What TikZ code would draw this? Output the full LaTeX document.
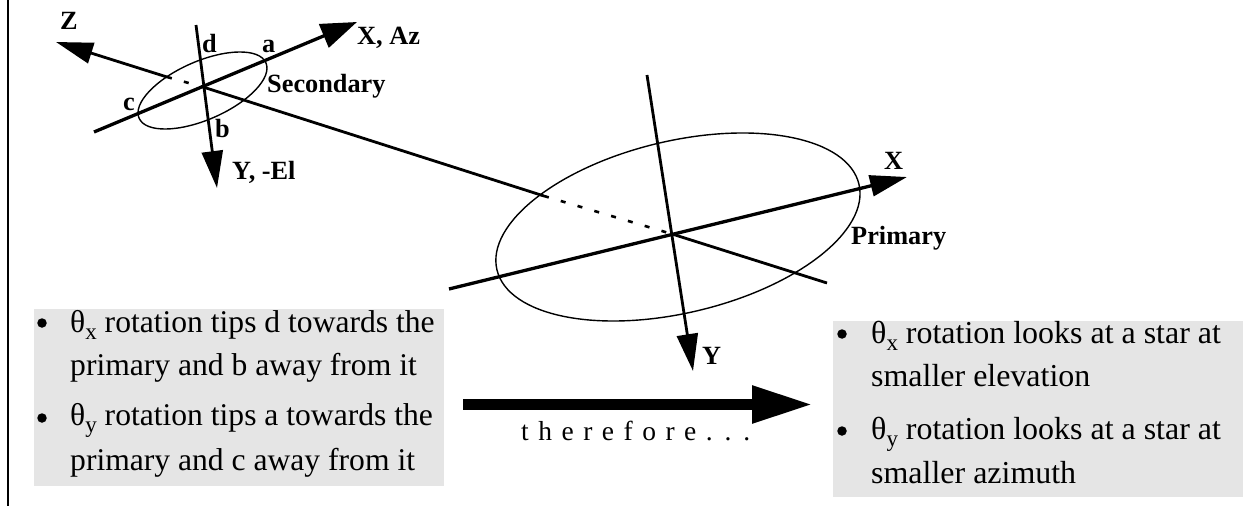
\documentclass[tikz,border=0pt]{standalone}
\usepackage{fontspec}
\setmainfont{Liberation Serif}
\usetikzlibrary{arrows.meta}
\newcommand{\thsub}[1]{θ\raisebox{-7pt}{\fontsize{23}{23}\selectfont #1}}
\tikzset{
  x=1pt,y=-1pt,
  axis/.style={line width=3.3pt,black},
  thinaxis/.style={line width=2.8pt,black},
  dotaxis/.style={line width=2.6pt,dash pattern=on 5pt off 12.5pt,black},
  rim/.style={line width=1.4pt,black},
  tipX/.style={-{Triangle[length=37pt,width=21pt]}},
  tipW/.style={-{Triangle[length=36pt,width=25pt]}},
  label/.style={font=\fontsize{26.3}{27}\selectfont\bfseries,inner sep=0pt,anchor=base west},
  body/.style={font=\fontsize{31.6}{32}\selectfont,inner sep=0pt,anchor=base west},
  bodyR/.style={font=\fontsize{31.95}{32}\selectfont,inner sep=0pt,anchor=base west},
  panel/.style={fill=panelgrey,draw=none},
  dotmark/.style={circle,fill=black,inner sep=0pt,minimum size=9.5pt},
}
\definecolor{panelgrey}{HTML}{E5E5E5}
\begin{document}
\begin{tikzpicture}
\useasboundingbox (0,0) rectangle (1254,506);
\fill[white] (0,0) rectangle (1254,506);
% coordinates
\coordinate (railT) at (8,0);
\coordinate (railB) at (8,506);
\coordinate (sC) at (203,87);
\coordinate (sXs) at (94,132);
\coordinate (sXe) at (357,22);
\coordinate (sZm) at (167,77);
\coordinate (sZe) at (56,42);
\coordinate (sYs) at (196,25);
\coordinate (sYe) at (217,188);
\coordinate (sE) at (202.5,90.5);
\coordinate (pC) at (672,234);
\coordinate (pIn) at (544,196);
\coordinate (pOut) at (827,283);
\coordinate (pXs) at (449,289);
\coordinate (pXe) at (907,177);
\coordinate (pYs) at (647,75);
\coordinate (pYe) at (693,371);
\coordinate (pE) at (678,227);
\coordinate (thA) at (463,404.5);
\coordinate (thB) at (813,404.5);

\draw[line width=1.2pt] (railT) -- (railB);

\fill[panel] (34,309) rectangle (444,486);
\fill[panel] (833,321) rectangle (1243,497);

% secondary
\draw[rim,rotate around={23.6:(sE)}] (sE) ellipse [x radius=69.2, y radius=29.2];
\draw[axis,tipW] (sXs) -- (sXe);
\draw[thinaxis,tipX] (sZm) -- (sZe);
\draw[dotaxis] (sZm) -- (sC);
\draw[thinaxis,tipX] (sYs) -- (sYe);
\draw[thinaxis] (sC) -- (pIn);

% primary
\draw[rim,rotate around={13.3:(pE)}] (pE) ellipse [x radius=186, y radius=86];
\draw[dotaxis] (pIn) -- (pC);
\draw[thinaxis] (pC) -- (pOut);
\draw[axis,tipX] (pXs) -- (pXe);
\draw[thinaxis,tipX] (pYs) -- (pYe);

% therefore arrow
\draw[line width=11.5pt,-{Triangle[length=61pt,width=35pt]}] (thA) -- (thB);

% labels
\node[label] (lZ) at (60,30) {Z};
\node[label] (ld) at (202,52) {d};
\node[label] (la) at (262,52) {a};
\node[label] (lc) at (123,110) {c};
\node[label] (lb) at (215,137) {b};
\node[label] (lXAz) at (357,45) {X, Az};
\node[label] (lSec) at (267,92) {Secondary};
\node[label] (lYEl) at (232,179) {Y, -El};
\node[label] (lX) at (884,169) {X};
\node[label] (lPri) at (851,244) {Primary};
\node[label] (lY) at (702,364) {Y};

% left text
\node[dotmark] (b1) at (42,323) {};
\node[body] (t1) at (70,332) {\thsub{x} rotation tips d towards the};
\node[body] (t2) at (70,375) {primary and b away from it};
\node[dotmark] (b2) at (42,418) {};
\node[body] (t3) at (70,425) {\thsub{y} rotation tips a towards the};
\node[body] (t4) at (70,470) {primary and c away from it};

% right text
\node[dotmark] (b3) at (842,334) {};
\node[bodyR] (t5) at (871,343) {\thsub{x} rotation looks at a star at};
\node[bodyR] (t6) at (871,386) {smaller elevation};
\node[dotmark] (b4) at (842,431) {};
\node[bodyR] (t7) at (871,439) {\thsub{y} rotation looks at a star at};
\node[bodyR] (t8) at (871,483) {smaller azimuth};

\node[inner sep=0pt,anchor=base west,font=\fontsize{27.5}{28}\selectfont] (th) at (521,440) {\spaceskip=9.5pt t h e r e f o r e . . .};
\end{tikzpicture}
\end{document}
